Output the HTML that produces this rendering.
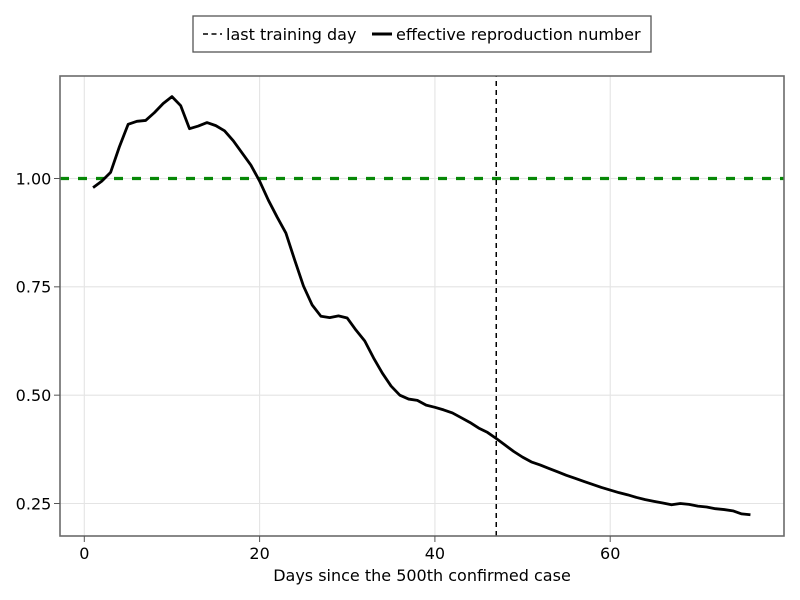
<!DOCTYPE html>
<html>
<head>
<meta charset="utf-8">
<style>
html,body{margin:0;padding:0;background:#fff;}
svg{display:block;}
text{font-family:"DejaVu Sans","Liberation Sans",sans-serif;fill:#000;}
</style>
</head>
<body>
<svg id="chart" width="800" height="600" viewBox="0 0 800 600" xmlns="http://www.w3.org/2000/svg">
  <rect x="0" y="0" width="800" height="600" fill="#fff"/>
  <g id="grid"></g>
  <g id="marks"></g>
  <rect x="60" y="76" width="724" height="460" fill="none" stroke="#6a6a6a" stroke-width="1.6"/>
  <g id="ticks"></g>
  <text x="422" y="581" font-size="16" text-anchor="middle">Days since the 500th confirmed case</text>
  <g>
    <rect x="193" y="16" width="458" height="36" fill="#fff" stroke="#555" stroke-width="1.3"/>
    <line x1="203" y1="34" x2="222" y2="34" stroke="#000" stroke-width="1.5" stroke-dasharray="5 3.5"/>
    <text x="226" y="40" font-size="16">last training day</text>
    <line x1="372" y1="34" x2="392" y2="34" stroke="#000" stroke-width="3"/>
    <text x="396" y="40" font-size="16.05">effective reproduction number</text>
  </g>
</svg>
<script>
const days = [1,2,3,4,5,6,7,8,9,10,11,12,13,14,15,16,17,18,19,20,21,22,23,24,25,26,27,28,29,30,31,32,33,34,35,36,37,38,39,40,41,42,43,44,45,46,47,48,49,50,51,52,53,54,55,56,57,58,59,60,61,62,63,64,65,66,67,68,69,70,71,72,73,74,75,76];
const reproductionNumber = [0.979,0.994,1.014,1.073,1.125,1.132,1.134,1.152,1.173,1.189,1.168,1.115,1.121,1.129,1.122,1.110,1.087,1.059,1.031,0.994,0.950,0.911,0.874,0.812,0.752,0.708,0.682,0.679,0.683,0.678,0.650,0.625,0.586,0.551,0.521,0.500,0.491,0.488,0.477,0.472,0.466,0.459,0.448,0.437,0.424,0.414,0.400,0.385,0.370,0.357,0.346,0.339,0.331,0.323,0.315,0.308,0.301,0.294,0.287,0.281,0.275,0.270,0.264,0.259,0.255,0.251,0.247,0.250,0.248,0.244,0.242,0.238,0.236,0.233,0.226,0.224];
const xTicks = [0,20,40,60];
const yTicks = [0.25,0.50,0.75,1.00];
const yTickLabels = ["0.25","0.50","0.75","1.00"];
const lastTrainingDay = 47;
const referenceLevel = 1.0;

const NS = 'http://www.w3.org/2000/svg';
const PLOT = {left:60,right:784,top:76,bottom:536};
function xScale(d){return 84.3 + d*8.765;}
function yScale(v){return 178.5 + (1 - v)*433.33;}
function make(parent,tag,attrs){
  const el = document.createElementNS(NS,tag);
  for(const k in attrs){el.setAttribute(k,attrs[k]);}
  parent.appendChild(el);
  return el;
}
const grid = document.getElementById('grid');
const marks = document.getElementById('marks');
const ticks = document.getElementById('ticks');

xTicks.forEach(function(t){
  const x = xScale(t);
  const g = make(grid,'line',{x1:x,x2:x,y1:PLOT.top,y2:PLOT.bottom,stroke:'#e4e4e4','stroke-width':1.1});
  
  
  const m = make(ticks,'line',{x1:x,x2:x,y1:PLOT.bottom,y2:PLOT.bottom+6,stroke:'#555','stroke-width':1});
  
  
  const l = make(ticks,'text',{x:x,y:559,'font-size':16,'text-anchor':'middle'});
  l.textContent = String(t);
  
  
});
yTicks.forEach(function(t,i){
  const y = yScale(t);
  const g = make(grid,'line',{x1:PLOT.left,x2:PLOT.right,y1:y,y2:y,stroke:'#e4e4e4','stroke-width':1.1});
  
  
  const m = make(ticks,'line',{x1:PLOT.left-6,x2:PLOT.left,y1:y,y2:y,stroke:'#555','stroke-width':1});
  
  
  const l = make(ticks,'text',{x:51.3,y:y+5.8,'font-size':16,'text-anchor':'end'});
  l.textContent = yTickLabels[i];
  
  
});

const refLine = make(marks,'line',{x1:PLOT.left,x2:PLOT.right,y1:yScale(referenceLevel),y2:yScale(referenceLevel),stroke:'#078807','stroke-width':3.2,'stroke-dasharray':'9 9'});



const trainLine = make(marks,'line',{x1:xScale(lastTrainingDay),x2:xScale(lastTrainingDay),y1:PLOT.top,y2:PLOT.bottom,stroke:'#000','stroke-width':1.5,'stroke-dasharray':'5 4','stroke-dashoffset':4});



const series = make(marks,'polyline',{points:days.map(function(d,i){return xScale(d).toFixed(2)+','+yScale(reproductionNumber[i]).toFixed(2);}).join(' '),fill:'none',stroke:'#000','stroke-width':2.8,'stroke-linejoin':'round'});


</script>
</body>
</html>
